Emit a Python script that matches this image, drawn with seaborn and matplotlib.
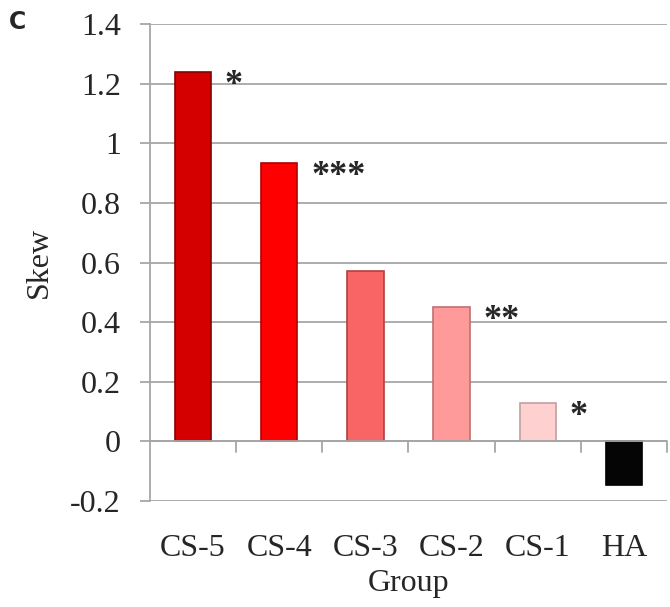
import matplotlib
matplotlib.use("Agg")
import matplotlib.pyplot as plt
import seaborn as sns
import pandas as pd
import numpy as np

groups = ["CS-5", "CS-4", "CS-3", "CS-2", "CS-1", "HA"]
skew = [1.24, 0.935, 0.57, 0.45, 0.13, -0.145]
stars = ["*", "***", "", "**", "*", ""]
bar_colors = ["#d40000", "#ff0000", "#f96464", "#ff9a9a", "#ffd0d0", "#050505"]
edge_colors = ["#8a0000", "#b00000", "#b04040", "#c07070", "#c0a0a0", "#000000"]

sns.set_theme(style="white")
plt.rcParams["font.family"] = ["Liberation Serif", "DejaVu Serif"]

df = pd.DataFrame({"Group": groups, "Skew": skew})

fig = plt.figure(figsize=(6.7, 6.07), dpi=100)
ax = fig.add_axes([150 / 670, 1 - 501 / 607, 517 / 670, (501 - 24) / 607])

sns.barplot(data=df, x="Group", y="Skew", hue="Group", palette=bar_colors,
            width=0.42, legend=False, ax=ax, saturation=1)
for patch, ec in zip(ax.patches, edge_colors):
    patch.set_edgecolor(ec)
    patch.set_linewidth(1.2)

ax.set_ylim(-0.2, 1.4)
ax.set_xlim(-0.5, 5.5)
ax.set_yticks(np.arange(-0.2, 1.41, 0.2))
ax.set_yticklabels(["-0.2", "0", "0.2", "0.4", "0.6", "0.8", "1", "1.2", "1.4"])
ax.yaxis.grid(True, color="#a6a6a6", linewidth=1.3)
ax.set_axisbelow(True)

for side in ["top", "right", "bottom"]:
    ax.spines[side].set_visible(False)
ax.spines["left"].set_color("#a6a6a6")
ax.spines["left"].set_linewidth(1.3)

ax.axhline(0, color="#a6a6a6", linewidth=1.3, zorder=1)
for xb in np.arange(0.5, 5.6, 1.0):
    ax.plot([xb, xb], [0, -0.035], color="#a6a6a6", linewidth=1.3,
            clip_on=False, zorder=1)

ax.tick_params(axis="y", left=True, direction="out", length=7, width=1.3,
               color="#a6a6a6", labelsize=23, pad=14)
ax.tick_params(axis="x", bottom=False, labelsize=23, pad=18)

for i, (val, s) in enumerate(zip(skew, stars)):
    if s:
        ax.text(i + 0.37, val + 0.01, s, fontsize=26, ha="left", va="top",
                fontweight="bold")

ax.set_xlabel("Group", fontsize=23, labelpad=4)
ax.set_ylabel("Skew", fontsize=23, labelpad=12)

fig.text(18 / 670, 1 - 22 / 607, "C", fontsize=17, fontweight="bold",
         family=["DejaVu Sans"], ha="center", va="center")

fig.savefig("out.png", dpi=100)
